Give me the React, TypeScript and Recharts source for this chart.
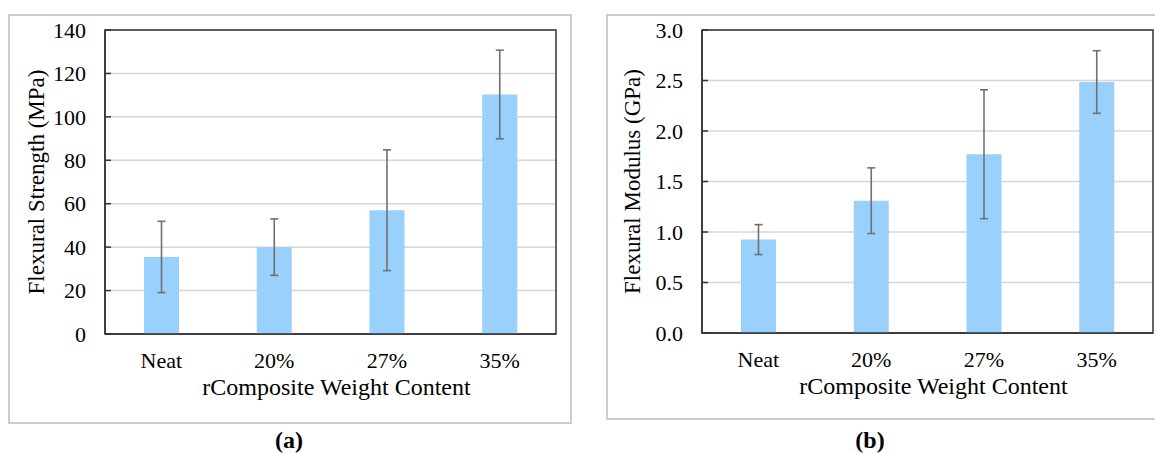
import { BarChart, Bar, XAxis, YAxis, CartesianGrid, ErrorBar, ReferenceArea } from 'recharts';

// values
const categories = ['Neat', '20%', '27%', '35%'];
const strengthMean = [35.5, 40.0, 57.0, 110.3];
const strengthSd = [16.4, 13.0, 27.8, 20.4];
const modulusMean = [0.925, 1.31, 1.77, 2.485];
const modulusSd = [0.148, 0.325, 0.638, 0.31];
const strengthTicks = [0, 20, 40, 60, 80, 100, 120, 140];
const modulusTicks = [0, 0.5, 1, 1.5, 2, 2.5, 3];

const strengthData = categories.map((name, i) => ({ name, value: strengthMean[i], sd: strengthSd[i] }));
const modulusData = categories.map((name, i) => ({ name, value: modulusMean[i], sd: modulusSd[i] }));

const FONT = '"Liberation Serif", "Times New Roman", serif';
const FRAME = '#333';

function YTick({ x, y, payload, fmt }: any) {
  return (
    <g>
      <line x1={x + 19} x2={x + 25} y1={y} y2={y} stroke={FRAME} strokeWidth={1.5} />
      <text x={x} y={y} dy="0.35em" textAnchor="end" fontFamily={FONT} fontSize={22} fill="#000">
        {fmt(payload.value)}
      </text>
    </g>
  );
}

interface PanelProps {
  data: { name: string; value: number; sd: number }[];
  ticks: number[];
  fmt: (v: number) => string;
  yTitle: string;
  width: number;
  marginRight: number;
  xAxisHeight: number;
  titleX: number;
}

function Panel({ data, ticks, fmt, yTitle, width, marginRight, xAxisHeight, titleX }: PanelProps) {
  const top = ticks[ticks.length - 1];
  return (
    <BarChart width={width} height={423} data={data} margin={{ top: 30, right: marginRight, bottom: 0, left: 0 }}>
      <CartesianGrid vertical={false} stroke="#d6d6d6" strokeWidth={1.5} />
      <ReferenceArea y1={0} y2={top} fill="none" stroke={FRAME} strokeWidth={1.5} ifOverflow="visible" />
      <XAxis
        dataKey="name"
        height={xAxisHeight}
        tickLine={false}
        tickSize={0}
        tickMargin={18}
        axisLine={{ stroke: FRAME, strokeWidth: 1.5 }}
        tick={{ fontFamily: FONT, fontSize: 22, fill: '#000' }}
        label={(p: any) => {
          const vb = p.viewBox ?? { x: 105, y: 334, width: 451, height: xAxisHeight };
          return (
            <text x={vb.x + vb.width / 2 + 6} y={vb.y + 61} textAnchor="middle" fontFamily={FONT} fontSize={24} fill="#000">
              rComposite Weight Content
            </text>
          );
        }}
      />
      <YAxis
        width={105}
        domain={[0, top]}
        ticks={ticks}
        interval={0}
        tickLine={false}
        tickSize={0}
        tickMargin={19}
        axisLine={{ stroke: FRAME, strokeWidth: 1.5 }}
        tick={<YTick fmt={fmt} />}
        label={(p: any) => {
          const vb = p.viewBox ?? { x: 0, y: 30, width: 105, height: 304 };
          const cy = vb.y + vb.height / 2;
          return (
            <text
              x={titleX}
              y={cy}
              transform={`rotate(-90 ${titleX} ${cy})`}
              textAnchor="middle"
              dominantBaseline="central"
              fontFamily={FONT}
              fontSize={23}
              fill="#000"
            >
              {yTitle}
            </text>
          );
        }}
      />
      <Bar dataKey="value" fill="#99D0FC" barSize={35} isAnimationActive={false}>
        <ErrorBar dataKey="sd" width={4} stroke="#707070" strokeWidth={1.6} direction="y" />
      </Bar>
    </BarChart>
  );
}

const boxStyle = { position: 'absolute' as const, border: '2px solid #cdcdcd', boxSizing: 'border-box' as const };
const captionStyle = {
  position: 'absolute' as const,
  top: 427,
  width: 100,
  textAlign: 'center' as const,
  fontFamily: FONT,
  fontWeight: 'bold' as const,
  fontSize: 24,
  color: '#000',
};

export default function App() {
  return (
    <div style={{ position: 'absolute', left: 0, top: 0, width: 1155, height: 453, overflow: 'hidden', background: '#fff' }}>
      <div style={{ ...boxStyle, left: 8, top: 14, width: 564, height: 410 }} />
      <div style={{ ...boxStyle, left: 606, top: 14, width: 600, height: 406 }} />
      <div style={{ position: 'absolute', left: 0, top: 0 }}>
        <Panel
          data={strengthData}
          ticks={strengthTicks}
          fmt={(v) => String(v)}
          yTitle="Flexural Strength (MPa)"
          width={571}
          marginRight={15}
          xAxisHeight={89}
          titleX={36}
        />
      </div>
      <div style={{ position: 'absolute', left: 597, top: 0 }}>
        <Panel
          data={modulusData}
          ticks={modulusTicks}
          fmt={(v) => v.toFixed(1)}
          yTitle="Flexural Modulus (GPa)"
          width={558}
          marginRight={2}
          xAxisHeight={90}
          titleX={35}
        />
      </div>
      <div style={{ ...captionStyle, left: 239 }}>(a)</div>
      <div style={{ ...captionStyle, left: 820 }}>(b)</div>
    </div>
  );
}
